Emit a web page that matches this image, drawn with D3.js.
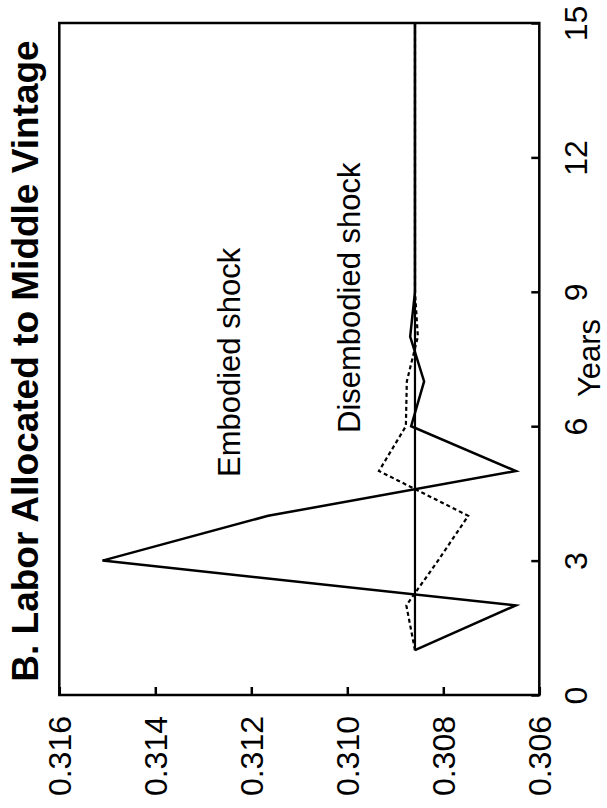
<!DOCTYPE html>
<html>
<head>
<meta charset="utf-8">
<script src="https://cdn.jsdelivr.net/npm/d3@7"></script>
<style>
  body { margin: 0; background: #fff; }
  text { font-family: "Liberation Sans", Arial, sans-serif; fill: #000; }
</style>
</head>
<body>
<div id="chart-container"></div>
<script>
// data
const years = [1, 2, 3, 4, 5, 6, 7, 8, 9, 10, 11, 12, 13, 14, 15];
const embodied = [0.30859, 0.30649, 0.31510, 0.31165, 0.30649, 0.30867, 0.30840, 0.30869, 0.30859,
                  0.30859, 0.30859, 0.30859, 0.30859, 0.30859, 0.30859];
const disembodied = [0.30859, 0.30877, 0.30811, 0.30748, 0.30934, 0.30878, 0.30876, 0.30853, 0.30859,
                     0.30859, 0.30859, 0.30859, 0.30859, 0.30859, 0.30859];
const steadyState = [0.30859, 0.30859, 0.30859, 0.30859, 0.30859, 0.30859, 0.30859, 0.30859, 0.30859,
                     0.30859, 0.30859, 0.30859, 0.30859, 0.30859, 0.30859];
const valueTicks = [0.316, 0.314, 0.312, 0.310, 0.308, 0.306];
const yearTicks = [0, 3, 6, 9, 12, 15];

const W = 607, H = 808;
const margin = { left: 59.3, right: 539.3, top: 23, bottom: 695 };

const svg = d3.select("#chart-container")
    .append("svg")
    .attr("width", W)
    .attr("height", H);

// value axis runs left to right (rotated chart), years run bottom to top
const vScale = d3.scaleLinear().domain([0.316, 0.306]).range([margin.left, margin.right]);
const tScale = d3.scaleLinear().domain([0, 15]).range([margin.bottom, margin.top]);

// bottom axis (values)
const xAxis = d3.axisBottom(vScale)
    .tickValues(valueTicks)
    .tickFormat(d3.format(".3f"))
    .tickSizeInner(-8)
    .tickSizeOuter(0);

const gx = svg.append("g")
    .attr("transform", `translate(0,${margin.bottom})`)
    .call(xAxis);
gx.select(".domain").remove();
gx.selectAll(".tick line").attr("stroke", "#000").attr("stroke-width", 2.5);
gx.selectAll(".tick text")
    .attr("transform", "rotate(-90)")
    .attr("x", -21)
    .attr("y", 0)
    .attr("dy", "0.35em")
    .attr("text-anchor", "end")
    .style("font-size", "32px");

// right axis (years)
const yAxis = d3.axisRight(tScale)
    .tickValues(yearTicks)
    .tickSizeInner(-8)
    .tickSizeOuter(0);

const gy = svg.append("g")
    .attr("transform", `translate(${margin.right},0)`)
    .call(yAxis);
gy.select(".domain").remove();
gy.selectAll(".tick line").attr("stroke", "#000").attr("stroke-width", 2.5);
gy.selectAll(".tick text")
    .attr("transform", "rotate(-90)")
    .attr("x", 0)
    .attr("y", 48)
    .attr("dy", 0)
    .attr("text-anchor", "middle")
    .style("font-size", "32px");

// frame
svg.append("rect")
    .attr("x", margin.left)
    .attr("y", margin.top)
    .attr("width", margin.right - margin.left)
    .attr("height", margin.bottom - margin.top)
    .attr("fill", "none")
    .attr("stroke", "#000")
    .attr("stroke-width", 2.5);

const line = d3.line()
    .x(d => vScale(d[1]))
    .y(d => tScale(d[0]));

svg.append("path")
    .datum(d3.zip(years, steadyState))
    .attr("d", line)
    .attr("fill", "none")
    .attr("stroke", "#000")
    .attr("stroke-width", 2.2);

svg.append("path")
    .datum(d3.zip(years, embodied))
    .attr("d", line)
    .attr("fill", "none")
    .attr("stroke", "#000")
    .attr("stroke-width", 2.5)
    .attr("stroke-linejoin", "miter");

svg.append("path")
    .datum(d3.zip(years, disembodied))
    .attr("d", line)
    .attr("fill", "none")
    .attr("stroke", "#000")
    .attr("stroke-width", 2.2)
    .attr("stroke-dasharray", "4,3");

// labels
svg.append("text")
    .attr("transform", "translate(38,361) rotate(-90)")
    .attr("text-anchor", "middle")
    .style("font-size", "37px")
    .style("font-weight", "bold")
    .text("B. Labor Allocated to Middle Vintage");

svg.append("text")
    .attr("transform", "translate(600,358) rotate(-90)")
    .attr("text-anchor", "middle")
    .style("font-size", "31px")
    .text("Years");

svg.append("text")
    .attr("transform", "translate(240,477) rotate(-90)")
    .attr("text-anchor", "start")
    .style("font-size", "31px")
    .text("Embodied shock");

svg.append("text")
    .attr("transform", "translate(360,433) rotate(-90)")
    .attr("text-anchor", "start")
    .style("font-size", "31px")
    .text("Disembodied shock");
</script>
</body>
</html>
